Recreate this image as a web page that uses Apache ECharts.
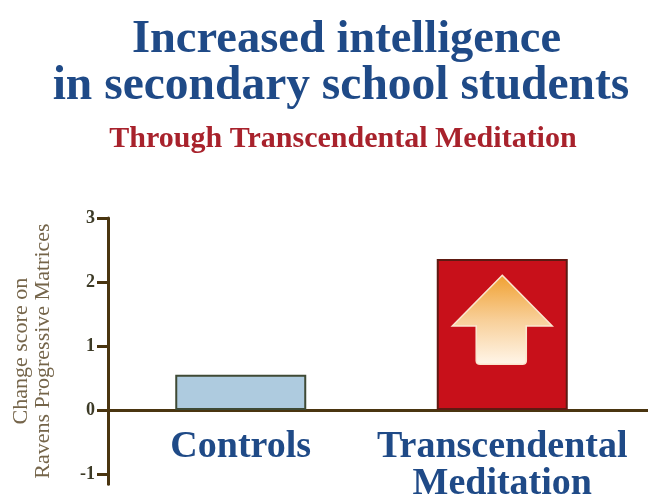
<!DOCTYPE html>
<html><head><meta charset="utf-8">
<script src="https://cdn.jsdelivr.net/npm/echarts@6/dist/echarts.min.js"></script>
<style>html,body{margin:0;padding:0;background:#fff}#c{width:648px;height:496px}</style>
</head><body><div id="c"></div>
<script>
const categories = ['Controls', 'Transcendental\nMeditation'];
const values = [0.55, 2.36];
const barColors = ['#aecbdf', '#c8101a'];
const barBorders = ['#3f4a35', '#5e1a12'];
const yTicks = [-1, 0, 1, 2, 3];
const arrowPoint = ['Transcendental\nMeditation', 1.41];
const titleLines = ['Increased intelligence', 'in secondary school students'];
const subtitle = 'Through Transcendental Meditation';
const yName = 'Change score on\nRavens Progressive Matrices';

const serif = '"Liberation Serif", serif';
const axisColor = '#4a3510';
const arrowPath = 'path://M50 0 L100 57 L74 57 L74 96 Q74 100 70 100 L28 100 Q24 100 24 96 L24 57 L0 57 Z';

const chart = echarts.init(document.getElementById('c'), null, {renderer: 'canvas'});
chart.setOption({
  animation: false,
  backgroundColor: '#fff',
  title: [
    {text: titleLines[0], left: 341.5, top: 11, textAlign: 'center', textStyle: {fontFamily: serif, fontWeight: 'bold', fontSize: 46.5, color: '#1f4a87'}},
    {text: titleLines[1], left: 336, top: 58, textAlign: 'center', textStyle: {fontFamily: serif, fontWeight: 'bold', fontSize: 47.5, color: '#1f4a87'}},
    {text: subtitle, left: 338, top: 119, textAlign: 'center', textStyle: {fontFamily: serif, fontWeight: 'bold', fontSize: 30, color: '#a8222c'}}
  ],
  grid: [
    {left: 110, width: 523, top: 218, height: 266.2, outerBoundsMode: 'none'},
    {left: 108, width: 540, top: 218, height: 266.2, outerBoundsMode: 'none'}
  ],
  xAxis: [
    {type: 'category', gridIndex: 0, data: categories,
     axisLine: {show: false, onZero: false}, axisTick: {show: false},
     axisLabel: {interval: 0, margin: -55.5, lineHeight: 37, fontFamily: serif, fontWeight: 'bold', fontSize: 38, color: '#1f4a87'}},
    {type: 'category', gridIndex: 1, data: categories,
     axisLine: {onZero: true, lineStyle: {color: axisColor, width: 3}},
     axisTick: {show: false}, axisLabel: {show: false}}
  ],
  yAxis: [
    {type: 'value', gridIndex: 0, min: -1.16, max: 3, show: false},
    {type: 'value', gridIndex: 1, min: -1.16, max: 3,
     name: yName, nameLocation: 'middle', nameRotate: 90, nameGap: 54,
     nameTextStyle: {fontFamily: serif, fontSize: 22, lineHeight: 22, color: '#75654a'},
     splitLine: {show: false},
     axisLine: {show: true, onZero: false, lineStyle: {color: axisColor, width: 3}},
     axisTick: {show: true, length: 11, customValues: yTicks, lineStyle: {color: axisColor, width: 3}},
     axisLabel: {margin: 13, customValues: yTicks, fontFamily: serif, fontWeight: 'bold', fontSize: 18, color: '#3c3a26'}}
  ],
  series: [
    {type: 'bar', xAxisIndex: 0, yAxisIndex: 0, barWidth: 131,
     data: values.map((v, i) => ({value: v, itemStyle: {color: barColors[i], borderColor: barBorders[i], borderWidth: 2}}))},
    {type: 'scatter', xAxisIndex: 0, yAxisIndex: 0, silent: true, z: 5,
     symbol: arrowPath, symbolSize: [100, 89], symbolKeepAspect: false,
     itemStyle: {opacity: 1, borderColor: '#fbe6cf', borderWidth: 1.5,
       color: new echarts.graphic.LinearGradient(0, 0, 0, 1, [
         {offset: 0, color: '#f0a030'}, {offset: 0.5, color: '#f8cf98'}, {offset: 1, color: '#fff6ea'}])},
     data: [arrowPoint]}
  ]
});
</script></body></html>
